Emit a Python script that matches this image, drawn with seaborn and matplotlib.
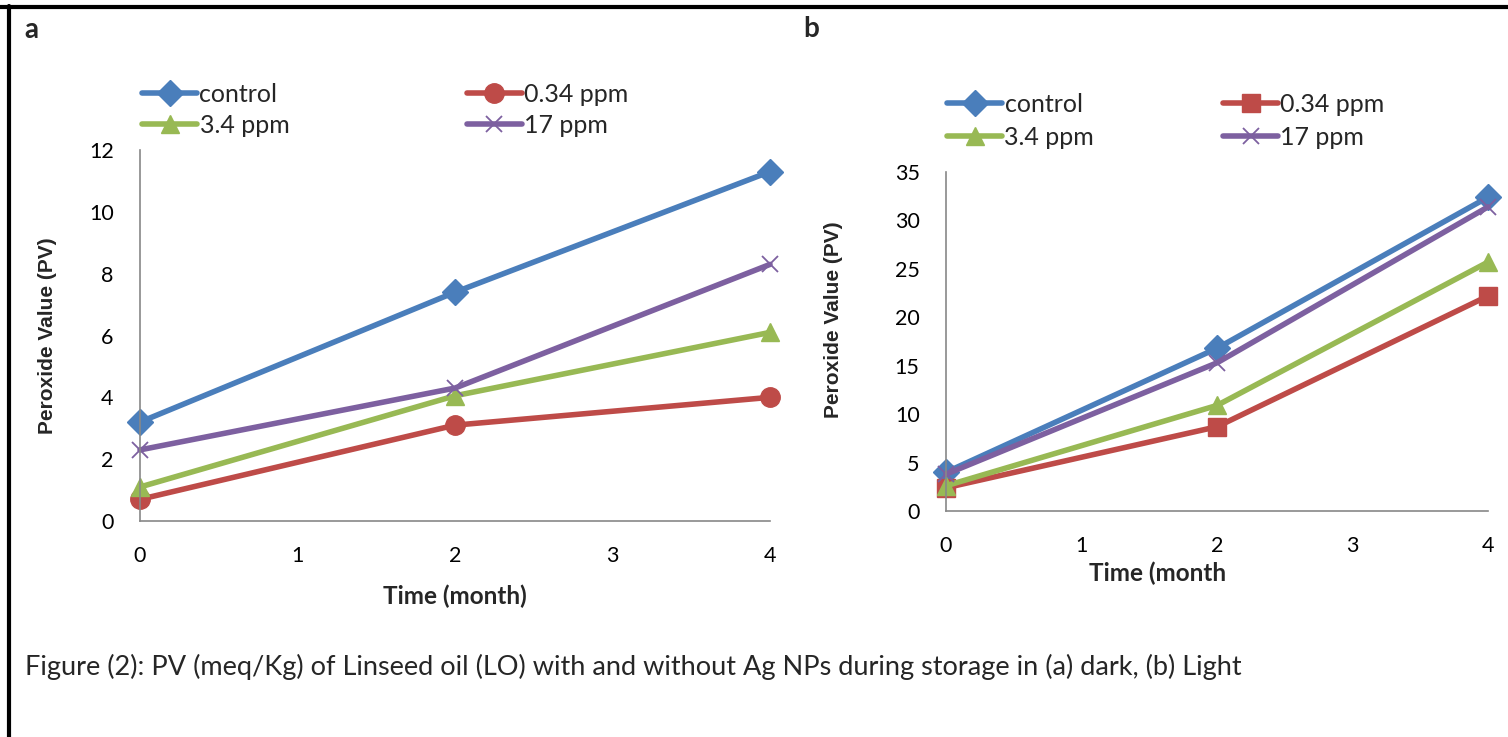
import numpy as np
import pandas as pd
import matplotlib
matplotlib.use("Agg")
from matplotlib import pyplot as plt
from matplotlib.lines import Line2D
import seaborn as sns

months = [0, 2, 4]
series = ["control", "0.34 ppm", "3.4 ppm", "17 ppm"]

# (a) dark storage
dark_control = [3.2, 7.4, 11.3]
dark_034 = [0.7, 3.1, 4.0]
dark_34 = [1.1, 4.05, 6.1]
dark_17 = [2.3, 4.3, 8.3]

# (b) light storage
light_control = [4.0, 16.8, 32.4]
light_034 = [2.4, 8.7, 22.2]
light_34 = [2.6, 10.9, 25.7]
light_17 = [3.8, 15.3, 31.4]

colors = {"control": "#4A7EBB", "0.34 ppm": "#BE4B48", "3.4 ppm": "#98B954", "17 ppm": "#7D60A0"}

sns.set_theme(style="white")
plt.rcParams["font.family"] = ["Lato", "DejaVu Sans"]

fig = plt.figure(figsize=(15.08, 7.37), dpi=100)
W, H = 1508, 737


def box(l, t, r, b):
    return [l / W, 1 - b / H, (r - l) / W, (b - t) / H]


def panel(ax, data, markers, ymax, ystep):
    for name, vals in zip(series, data):
        m = markers[name]
        ms = {"D": 13, "^": 13, "x": 12, "o": 14, "s": 13}[m]
        sns.lineplot(x=months, y=vals, ax=ax, color=colors[name], marker=m,
                     markersize=ms, mec=colors[name], mew=1.3 if m == "x" else 1,
                     linewidth=4, label=name, clip_on=False)
    ax.set_xlim(0, 4)
    ax.set_ylim(0, ymax)
    ax.set_xticks(range(5))
    ax.set_yticks(np.arange(0, ymax + 1, ystep))
    for s in ["top", "right"]:
        ax.spines[s].set_visible(False)
    for s in ["left", "bottom"]:
        ax.spines[s].set_color("#888888")
        ax.spines[s].set_linewidth(1.2)
    ax.tick_params(length=0, labelsize=15.5, colors="black")
    ax.tick_params(axis="y", pad=19)
    ax.tick_params(axis="x", pad=18)
    ax.set_ylabel("Peroxide Value (PV)", fontsize=15, fontweight="bold",
                  family=["Liberation Sans", "DejaVu Sans"])
    h, l = ax.get_legend_handles_labels()
    if ax.get_legend():
        ax.get_legend().remove()
    order = [0, 2, 1, 3]
    return [h[i] for i in order], [l[i] for i in order]


# panel a
ax1 = fig.add_axes(box(140, 150, 770, 521))
ma = {"control": "D", "0.34 ppm": "o", "3.4 ppm": "^", "17 ppm": "x"}
h, l = panel(ax1, [dark_control, dark_034, dark_34, dark_17], ma, 12, 2)
ax1.set_xlabel("Time (month)", fontsize=17.5, fontweight="bold")
ax1.xaxis.set_label_coords(0.5, -0.172)
ax1.yaxis.set_label_coords(-0.132, 0.5)
fig.legend(h, l, ncol=2, loc="center left", bbox_to_anchor=(142 / W, 1 - 110 / H),
           frameon=False, fontsize=18, handlelength=2.2, handletextpad=0.1,
           columnspacing=7.1, labelspacing=0.33, borderpad=0, borderaxespad=0)

# panel b
ax2 = fig.add_axes(box(946, 172, 1488, 511))
mb = {"control": "D", "0.34 ppm": "s", "3.4 ppm": "^", "17 ppm": "x"}
h, l = panel(ax2, [light_control, light_034, light_34, light_17], mb, 35, 5)
ax2.set_xlabel("Time (month", fontsize=17.5, fontweight="bold")
ax2.xaxis.set_label_coords(0.391, -0.15)
ax2.yaxis.set_label_coords(-0.19, 0.563)
fig.legend(h, l, ncol=2, loc="center left", bbox_to_anchor=(947 / W, 1 - 121 / H),
           frameon=False, fontsize=18, handlelength=2.2, handletextpad=0.1,
           columnspacing=5.15, labelspacing=0.4, borderpad=0, borderaxespad=0)

fig.text(31 / W, 1 - 30 / H, "a", fontsize=20, fontweight="bold", va="center", ha="center")
fig.text(811 / W, 1 - 29 / H, "b", fontsize=20, fontweight="bold", va="center", ha="center")
fig.text(25 / W, 1 - 667 / H,
         "Figure (2): PV (meq/Kg) of Linseed oil (LO) with and without Ag NPs during storage in (a) dark, (b) Light",
         fontsize=19.5, va="center", ha="left")

# page border
fig.add_artist(Line2D([0, 1], [1 - 7 / H, 1 - 7 / H], color="black", linewidth=3))
fig.add_artist(Line2D([9 / W, 9 / W], [0, 1 - 5.5 / H], color="black", linewidth=3))

fig.savefig("out.png", dpi=100)
